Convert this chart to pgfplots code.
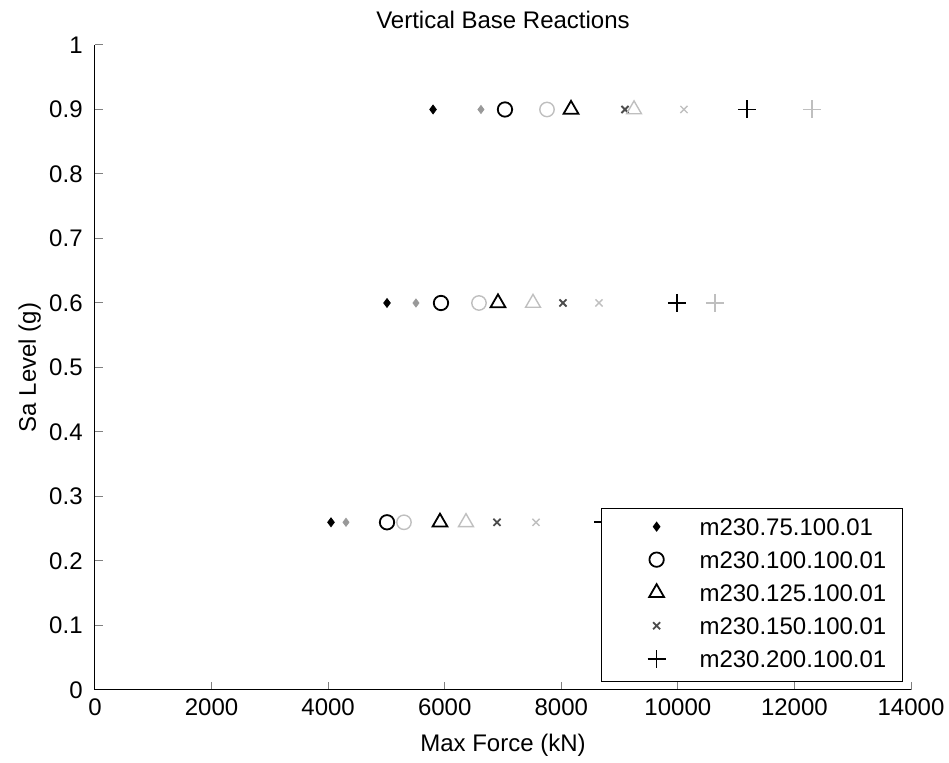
\documentclass[border=0pt]{standalone}
\usepackage{fontspec}
\setmainfont{Liberation Sans}
\usepackage{pgfplots}
\pgfplotsset{compat=1.18}
\definecolor{lgray}{gray}{0.75}
\definecolor{mgray}{gray}{0.6}
\begin{document}
\fontsize{12}{14}\selectfont
\begin{tikzpicture}
\useasboundingbox (-47.5pt,-36.5pt) rectangle (427pt,345pt);
\begin{axis}[
  at={(0pt,0pt)}, anchor=south west,
  scale only axis,
  width=408pt, height=322.5pt,
  xmin=0, xmax=14000, ymin=0, ymax=1,
  axis lines=left,
  axis line style={-, line width=0.5pt},
  tick style={line width=0.5pt},
  major tick length=4pt,
  tick align=inside,
  xtick={0,2000,...,14000},
  ytick={0,0.1,...,1},
  yticklabels={0,0.1,0.2,0.3,0.4,0.5,0.6,0.7,0.8,0.9,1},
  scaled x ticks=false,
  /pgf/number format/assume math mode=true,
  xticklabel style={/pgf/number format/1000 sep={}},
  yticklabel style={xshift=-2pt},
  tick label style={font=\fontsize{12}{14}\selectfont},
  label style={font=\fontsize{12}{14}\selectfont},
  xlabel style={yshift=-1pt},
  ylabel style={yshift=-4pt},
  title style={font=\fontsize{12}{14}\selectfont, yshift=-2pt},
  title={Vertical Base Reactions},
  xlabel={Max Force (kN)},
  ylabel={Sa Level (g)},
  legend style={at={(rel axis cs:0.99,0.012)}, anchor=south east,
    draw=black, fill=white, line width=0.5pt,
    font=\fontsize{12}{14}\selectfont, row sep=6pt,
    inner xsep=8pt, inner ysep=5pt,
    nodes={inner sep=0pt, text height=8.5pt, text depth=2pt}},
  legend cell align=left,
  legend image code/.code={\path (0pt,0pt) (40pt,0pt);\draw[#1] plot coordinates {(19pt,1pt)};},
]
% black series
\addplot[only marks, mark=diamond*, mark size=2.2pt, black, fill=black] coordinates {(4049,0.26) (5010,0.6) (5800,0.9)};
\addlegendentry{m230.75.100.01}
\addplot[only marks, mark=o, mark size=3.6pt, black, line width=0.9pt] coordinates {(5010,0.26) (5936,0.6) (7034,0.9)};
\addlegendentry{m230.100.100.01}
\addplot[only marks, mark=triangle, mark size=4.3pt, black, line width=0.9pt] coordinates {(5919,0.26) (6914,0.6) (8167,0.9)};
\addlegendentry{m230.125.100.01}
\addplot[only marks, mark=x, mark size=2.5pt, black!70, line width=0.9pt] coordinates {(6897,0.26) (8029,0.6) (9093,0.9)};
\addlegendentry{m230.150.100.01}
\addplot[only marks, mark=+, mark size=4.5pt, black, line width=0.8pt] coordinates {(8716,0.26) (9985,0.6) (11186,0.9)};
\addlegendentry{m230.200.100.01}
% gray series
\addplot[forget plot, only marks, mark=diamond*, mark size=2pt, mgray, fill=mgray] coordinates {(4306,0.26) (5507,0.6) (6622,0.9)};
\addplot[forget plot, only marks, mark=o, mark size=3.6pt, lgray, line width=0.7pt] coordinates {(5301,0.26) (6588,0.6) (7755,0.9)};
\addplot[forget plot, only marks, mark=triangle, mark size=4.3pt, lgray, line width=0.7pt] coordinates {(6365,0.26) (7515,0.6) (9248,0.9)};
\addplot[forget plot, only marks, mark=x, mark size=2.5pt, lgray, line width=0.7pt] coordinates {(7566,0.26) (8647,0.6) (10105,0.9)};
\addplot[forget plot, only marks, mark=+, mark size=4.5pt, lgray, line width=0.7pt] coordinates {(9400,0.26) (10637,0.6) (12301,0.9)};
\end{axis}
\end{tikzpicture}
\end{document}
